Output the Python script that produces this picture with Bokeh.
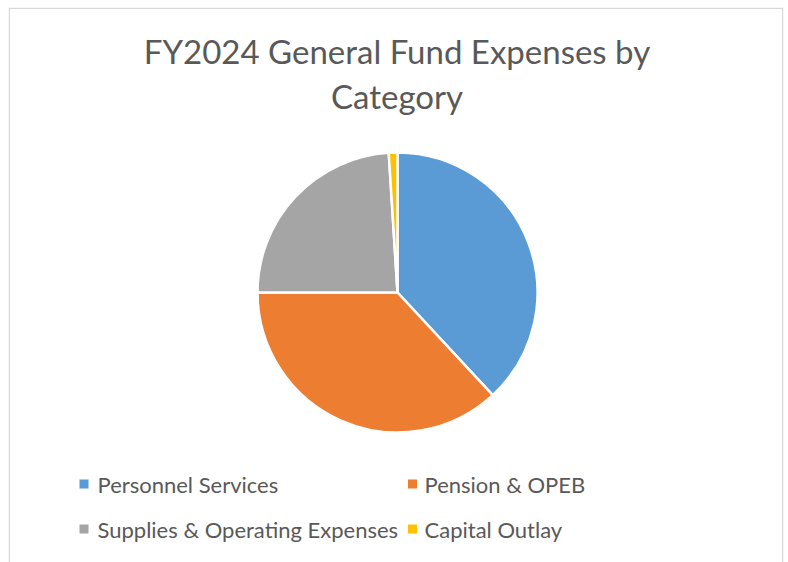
import numpy as np
from bokeh.plotting import figure
from bokeh.models import Range1d, ColumnDataSource, Span
from bokeh.core.properties import value
from bokeh.embed import file_html
from bokeh.resources import INLINE

# ---- data ----
categories = ["Personnel Services", "Pension & OPEB",
              "Supplies & Operating Expenses", "Capital Outlay"]
shares = [38.1, 36.9, 24.0, 1.0]   # percent of FY2024 General Fund expenses
colors = ["#5B9BD5", "#ED7D31", "#A5A5A5", "#FFC000"]
title_lines = ["FY2024 General Fund Expenses by", "Category"]

CW, CH = 784, 562          # canvas
ML, MT, MR = 8, 7, 1       # frame offsets inside canvas
FW, FH = CW - ML - MR, CH - MT  # frame size (1 data unit = 1 px)
FONT = "Lato"
TXT = "#595959"
BORDER = "#D9D9D9"

p = figure(width=CW, height=CH, output_backend="svg", toolbar_location=None,
           x_range=Range1d(0, FW), y_range=Range1d(0, FH),
           min_border_left=ML, min_border_top=MT, min_border_right=MR,
           min_border_bottom=0)
p.axis.visible = False
p.grid.visible = False
p.outline_line_color = None
p.background_fill_color = "white"
p.border_fill_color = "white"

# chart-area border (top, left, right; bottom is cut off in the reference)
for loc, dim in [(0.75, "height"), (FW - 0.75, "height"), (FH - 0.75, "width")]:
    p.add_layout(Span(location=loc, dimension=dim, line_color=BORDER,
                      line_width=1.5))

# pie
vals = np.array(shares, dtype=float)
frac = vals / vals.sum()
cum = np.concatenate([[0], np.cumsum(frac)])
start = np.pi / 2 - cum[:-1] * 2 * np.pi
end = np.pi / 2 - cum[1:] * 2 * np.pi
src = ColumnDataSource(dict(start=start, end=end, color=colors, cat=categories))
cx, cy, r = 389, 270, 140
p.wedge(x=cx, y=cy, radius=r, start_angle="start", end_angle="end",
        direction="clock", fill_color="color", line_color="white",
        line_width=2.5, source=src)

# title
p.text(x=[FW / 2 + 1] * 2, y=[512, 467], text=title_lines,
       text_font=value(FONT), text_font_size="33px", text_color=TXT,
       text_align="center", text_baseline="middle")

# legend (2 columns x 2 rows)
mx = [75.5, 404, 75.5, 404]
tx = [89, 416, 89, 416]
ly = [78.5, 78.5, 33.5, 33.5]
leg = ColumnDataSource(dict(mx=mx, tx=tx, y=ly, color=colors, cat=categories))
p.scatter(x="mx", y="y", marker="square", size=9, fill_color="color",
          line_color=None, source=leg)
p.text(x="tx", y="y", text="cat", text_font=value(FONT),
       text_font_size="22px", text_color=TXT, text_align="left",
       text_baseline="middle", source=leg)

open("out.html", "w").write(file_html(p, INLINE))
